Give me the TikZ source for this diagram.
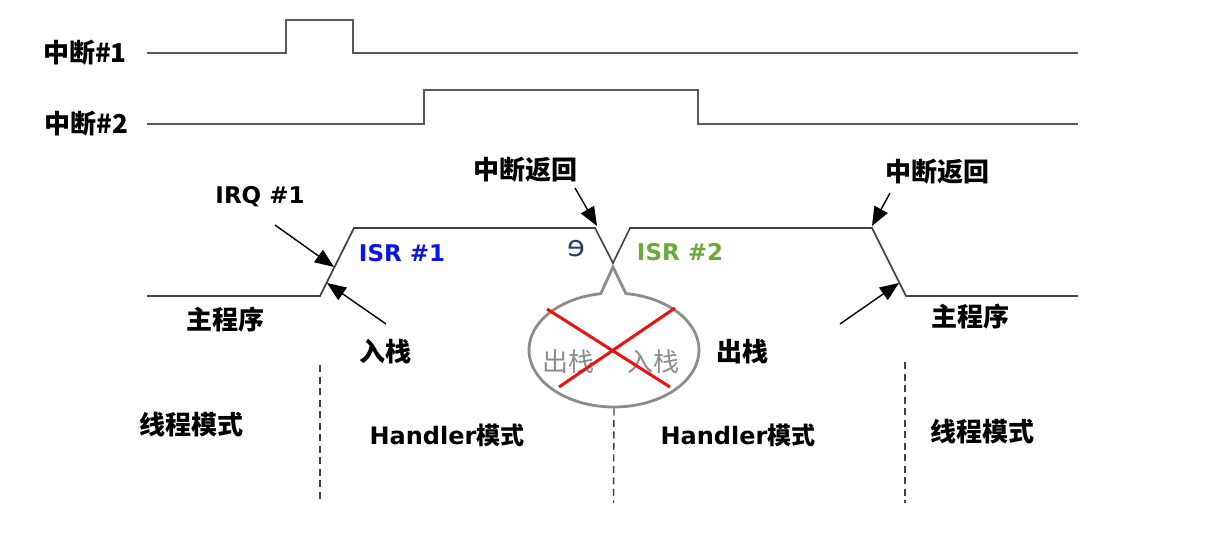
\documentclass[tikz,border=0pt]{standalone}
\usepackage{fontspec}
\setmainfont{DejaVu Sans}
\newfontfamily\cjk{Noto Sans CJK SC}
\usetikzlibrary{arrows.meta,shapes.callouts}
\definecolor{sig}{HTML}{595959}
\definecolor{trace}{HTML}{404040}
\definecolor{isrblue}{HTML}{0A14E6}
\definecolor{isrgreen}{HTML}{6AAA3A}
\definecolor{bubgray}{HTML}{8C8C8C}
\definecolor{xred}{HTML}{F01010}
\definecolor{navy}{HTML}{2A3A6A}
\begin{document}
\begin{tikzpicture}[x=1pt,y=-1pt,
  lbl/.style={inner sep=0pt, font=\fontsize{23}{27}\selectfont\bfseries},
  hlbl/.style={inner sep=0pt, font=\fontsize{24}{28}\selectfont\bfseries},
  zh/.style={inner sep=0pt, font=\fontsize{26}{30}\selectfont\bfseries\cjk},
  zhgray/.style={inner sep=0pt, text=bubgray, font=\fontsize{26}{30}\selectfont\cjk},
  sigline/.style={draw=sig, line width=1.6pt},
  traceline/.style={draw=trace, line width=1.6pt, line join=miter},
  pointer/.style={draw=black, line width=1.4pt, -{Triangle[length=19pt,width=15pt]}},
  modeline/.style={draw=trace, line width=1.4pt, dash pattern=on 7pt off 4.5pt},
  crossline/.style={draw=xred, line width=3pt}]
\useasboundingbox (0,0) rectangle (1211,559);

% interrupt signals
\node[zh] (l1) at (85,53) {中断\#1};
\node[zh] (l2) at (86,124) {中断\#2};
\draw[sigline] (147,53) -- (286,53) -- (286,20) -- (353,20) -- (353,53) -- (1078,53);
\draw[sigline] (147,124) -- (424,124) -- (424,90) -- (698,90) -- (698,124) -- (1078,124);

% main trace
\coordinate (m0) at (147,296);
\coordinate (m1) at (320,296);
\coordinate (m2) at (354,228);
\coordinate (m3) at (595,228);
\coordinate (m4) at (613,263);
\coordinate (m5) at (630,228);
\coordinate (m6) at (872,228);
\coordinate (m7) at (906,296);
\coordinate (m8) at (1078,296);
\draw[traceline] (m0) -- (m1) -- (m2) -- (m3) -- (m4) -- (m5) -- (m6) -- (m7) -- (m8);

% labels
\node[lbl] (irq) at (260,197) {IRQ \#1};
\node[lbl, text=isrblue] (isr1) at (402,253) {ISR \#1};
\node[lbl, text=isrgreen] (isr2) at (680,252) {ISR \#2};
\node[zh] (ret1) at (525,170) {中断返回};
\node[zh] (ret2) at (937,172) {中断返回};
\node[zh] (main1) at (225,320) {主程序};
\node[zh] (main2) at (970,317) {主程序};
\node[zh] (push) at (385,352) {入栈};
\node[zh] (pop) at (742,352) {出栈};
\node[inner sep=0pt, text=navy, font=\fontsize{29}{32}\selectfont] (mir) at (576,249) {ɘ};

% arrows
\coordinate (irqs) at (275,225);   \coordinate (irqe) at (334,267);
\coordinate (pushs) at (386,324);  \coordinate (pushe) at (327,283);
\coordinate (ret1s) at (575,188);  \coordinate (ret1e) at (597,226);
\coordinate (ret2s) at (890,193);  \coordinate (ret2e) at (872,226);
\coordinate (pops) at (840,324);   \coordinate (pope) at (899,283);
\draw[pointer] (irqs) -- (irqe);
\draw[pointer] (pushs) -- (pushe);
\draw[pointer] (ret1s) -- (ret1e);
\draw[pointer] (ret2s) -- (ret2e);
\draw[pointer] (pops) -- (pope);

% bubble
\coordinate (apex) at (613,267);
\node[ellipse callout, draw=bubgray, line width=2.8pt, fill=white,
      minimum width=170pt, minimum height=114pt, inner sep=0pt,
      callout absolute pointer=(apex), callout pointer arc=17] (bub) at (614,350) {};
\node[zhgray] (gpop) at (568,362) {出栈};
\node[zhgray] (gpush) at (653,362) {入栈};
\coordinate (xa) at (547,309); \coordinate (xb) at (670,387);
\coordinate (xc) at (675,308); \coordinate (xd) at (559,387);
\draw[crossline] (xa) -- (xb);
\draw[crossline] (xc) -- (xd);

% mode separators
\coordinate (d1t) at (320,365); \coordinate (d1b) at (320,503);
\coordinate (d2b) at (613.5,503);
\coordinate (d3t) at (905,362); \coordinate (d3b) at (905,503);
\draw[modeline] (d1t) -- (d1b);
\draw[modeline] (bub.south) -- (d2b);
\draw[modeline] (d3t) -- (d3b);

\node[zh] (thr1) at (191,425) {线程模式};
\node[hlbl] (h1) at (447,435) {Handler{\cjk 模式}};
\node[hlbl] (h2) at (738,435) {Handler{\cjk 模式}};
\node[zh] (thr2) at (982,432) {线程模式};
\end{tikzpicture}
\end{document}
